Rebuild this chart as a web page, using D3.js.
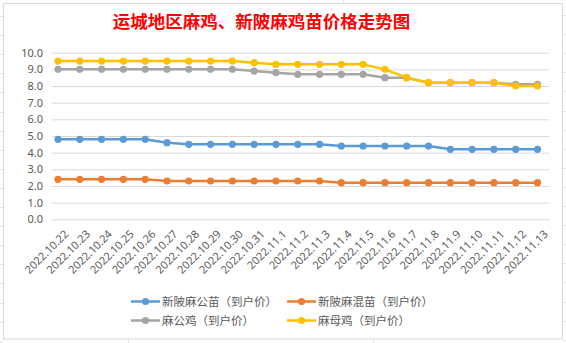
<!DOCTYPE html>
<html><head><meta charset="utf-8">
<script src="https://cdn.jsdelivr.net/npm/d3@7"></script>
<style>body{margin:0;background:#fff;}svg{display:block;}</style>
</head><body>
<svg id="c" width="566" height="343"></svg>
<script>
const categories = ["2022.10.22","2022.10.23","2022.10.24","2022.10.25","2022.10.26","2022.10.27","2022.10.28","2022.10.29","2022.10.30","2022.10.31","2022.11.1","2022.11.2","2022.11.3","2022.11.4","2022.11.5","2022.11.6","2022.11.7","2022.11.8","2022.11.9","2022.11.10","2022.11.11","2022.11.12","2022.11.13"];
const chickMale = [4.8,4.8,4.8,4.8,4.8,4.6,4.5,4.5,4.5,4.5,4.5,4.5,4.5,4.4,4.4,4.4,4.4,4.4,4.2,4.2,4.2,4.2,4.2];
const chickMixed = [2.4,2.4,2.4,2.4,2.4,2.3,2.3,2.3,2.3,2.3,2.3,2.3,2.3,2.2,2.2,2.2,2.2,2.2,2.2,2.2,2.2,2.2,2.2];
const rooster = [9.0,9.0,9.0,9.0,9.0,9.0,9.0,9.0,9.0,8.9,8.8,8.7,8.7,8.7,8.7,8.5,8.5,8.2,8.2,8.2,8.2,8.1,8.1];
const hen = [9.5,9.5,9.5,9.5,9.5,9.5,9.5,9.5,9.5,9.4,9.3,9.3,9.3,9.3,9.3,9.0,8.5,8.2,8.2,8.2,8.2,8.0,8.0];
const seriesNames = ["新陂麻公苗（到户价）","新陂麻混苗（到户价）","麻公鸡（到户价）","麻母鸡（到户价）"];
const seriesColors = ["#5B9BD5","#ED7D31","#A5A5A5","#FFC000"];
const yTicks = [0,1,2,3,4,5,6,7,8,9,10];
const title = "运城地区麻鸡、新陂麻鸡苗价格走势图";

const series = [chickMale, chickMixed, rooster, hen];
const svg = d3.select("#c");

// spreadsheet background lines outside chart
const bg = svg.append("g").attr("stroke","#E3E3E3").attr("stroke-width",1);
for (let y = 16; y < 343; y += 19.1) {
  bg.append("line").attr("x1",0).attr("x2",3).attr("y1",Math.round(y)+0.5).attr("y2",Math.round(y)+0.5);
  bg.append("line").attr("x1",563).attr("x2",566).attr("y1",Math.round(y-1)+0.5).attr("y2",Math.round(y-1)+0.5);
}
bg.append("line").attr("x1",343.5).attr("x2",343.5).attr("y1",0).attr("y2",3);
bg.append("line").attr("x1",128.5).attr("x2",128.5).attr("y1",339).attr("y2",343);
bg.append("line").attr("x1",373.5).attr("x2",373.5).attr("y1",339).attr("y2",343);

// chart border
svg.append("rect").attr("x",3.5).attr("y",3.5).attr("width",559).attr("height",335.5)
  .attr("fill","#fff").attr("stroke","#D9D9D9").attr("stroke-width",1);

// title
svg.append("text").attr("x",261.5).attr("y",28).attr("text-anchor","middle")
  .attr("font-family","'Noto Sans CJK SC'").attr("font-weight","bold").attr("font-size",17.5)
  .attr("fill","#FF0000").text(title);

const x = d3.scalePoint().domain(categories).range([58, 537.5]);
const y = d3.scaleLinear().domain([0,10]).range([219.3, 52.7]);

// gridlines
const yAxis = d3.axisLeft(y).tickValues(yTicks).tickFormat(d3.format(".1f")).tickSize(-497).tickPadding(9);
const ga = svg.append("g").attr("transform","translate(52,0)").call(yAxis);
ga.select(".domain").remove();
ga.selectAll(".tick line").attr("stroke","#D9D9D9").attr("stroke-width",1);
ga.selectAll(".tick text").attr("fill","#595959").attr("font-family","'Noto Sans'").attr("font-size",11);

// x labels
const xAxis = d3.axisBottom(x).tickSize(0).tickPadding(0);
const gx = svg.append("g").attr("transform","translate(0,228)").call(xAxis);
gx.select(".domain").remove();
gx.selectAll(".tick text")
  .attr("fill","#595959").attr("font-family","'Noto Sans'").attr("font-size",11)
  .attr("text-anchor","end").attr("dy","0.35em")
  .attr("transform","translate(8,4) rotate(-45)");

// lines
const line = d3.line().x((d,i)=>x(categories[i])).y(d=>y(d));
series.forEach((s,k)=>{
  const g = svg.append("g");
  g.append("path").datum(s).attr("d",line).attr("fill","none")
    .attr("stroke",seriesColors[k]).attr("stroke-width",2.5).attr("stroke-linejoin","round").attr("stroke-linecap","round");
  g.selectAll("circle").data(s).join("circle")
    .attr("cx",(d,i)=>x(categories[i])).attr("cy",d=>y(d)).attr("r",3.6)
    .attr("fill",seriesColors[k]);
});

// legend
const legendPos = [[131,301.5],[287,301.5],[131,320.5],[287,320.5]];
seriesNames.forEach((n,k)=>{
  const [lx,ly] = legendPos[k];
  const g = svg.append("g").attr("transform",`translate(${lx},${ly})`);
  g.append("line").attr("x1",0).attr("x2",29).attr("y1",0).attr("y2",0)
    .attr("stroke",seriesColors[k]).attr("stroke-width",2.5);
  g.append("circle").attr("cx",14.5).attr("cy",0).attr("r",3.6).attr("fill",seriesColors[k]);
  g.append("text").attr("x",31).attr("y",0).attr("dy","0.36em")
    .attr("font-family","'Noto Sans CJK SC'").attr("font-size",11.5).attr("fill","#595959").text(n);
});
</script>
</body></html>
